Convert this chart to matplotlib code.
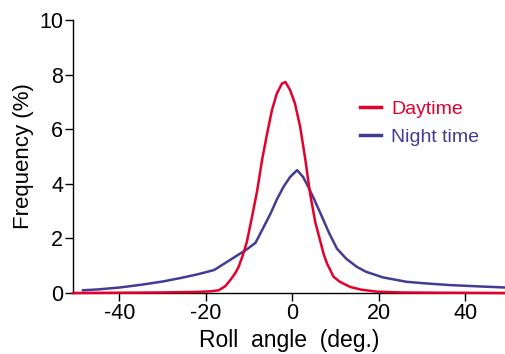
import matplotlib
matplotlib.use("Agg")
import matplotlib.pyplot as plt

plt.rcParams['font.family'] = ['Liberation Sans', 'DejaVu Sans']
plt.rcParams['axes.unicode_minus'] = False

# Daytime roll-angle frequency (%)
day_x = [-50.7, -40, -30, -22, -19, -17, -15.5, -14.3, -13.3, -12.4, -11.3, -10.5, -9.3, -8.1, -7.0,
         -5.8, -4.7, -3.6, -2.4, -1.6, -0.5, 0.6, 1.8, 3.0, 4.1, 5.3, 6.4, 7.2, 8.0, 9.5, 11.0,
         13.4, 16.0, 19.5, 25.0, 35.0, 49.4]
day_y = [0.0, 0.01, 0.02, 0.04, 0.06, 0.1, 0.25, 0.48, 0.7, 0.96, 1.45, 1.88, 2.8, 3.77, 4.87,
         5.86, 6.7, 7.3, 7.67, 7.73, 7.43, 6.95, 6.1, 4.9, 3.65, 2.6, 1.94, 1.45, 1.09, 0.6, 0.41,
         0.22, 0.12, 0.05, 0.02, 0.01, 0.0]

# Night time roll-angle frequency (%)
night_x = [-48.4, -45, -40, -35, -30, -25.8, -22, -18.1, -15, -12.7, -10.5, -8.5, -7, -5,
           -3.5, -2, -0.5, 1.1, 2.5, 3.8, 5, 6.5, 8.5, 10.3, 12.5, 14.9, 17, 21, 26.4, 31,
           36.4, 42, 49.4]
night_y = [0.1, 0.13, 0.2, 0.3, 0.42, 0.55, 0.68, 0.84, 1.15, 1.38, 1.6, 1.84, 2.3, 2.92,
           3.45, 3.9, 4.25, 4.5, 4.25, 3.85, 3.45, 2.92, 2.2, 1.63, 1.25, 0.96, 0.78, 0.57,
           0.41, 0.35, 0.29, 0.25, 0.2]

xticks = [-40, -20, 0, 20, 40]
yticks = [0, 2, 4, 6, 8, 10]

day_color = '#E3002B'
night_color = '#433C93'

fig = plt.figure(figsize=(5.06, 3.54), dpi=100)
ax = fig.add_axes([73/506, 1-293/354, 1-73/506, (293-20)/354])

ax.plot(day_x, day_y, color=day_color, lw=1.8, label='Daytime', clip_on=False, zorder=5)
ax.plot(night_x, night_y, color=night_color, lw=1.8, label='Night time', clip_on=False, zorder=4)

ax.set_xlim(-50.7, 49.4)
ax.set_ylim(0, 10)
ax.set_xticks(xticks)
ax.set_yticks(yticks)
ax.tick_params(axis='both', direction='out', length=6, width=1, labelsize=15.5, pad=1)
ax.spines['top'].set_visible(False)
ax.spines['right'].set_visible(False)
ax.spines['left'].set_linewidth(1)
ax.spines['bottom'].set_linewidth(1)

ax.set_xlabel('Roll  angle  (deg.)', fontsize=16.5, labelpad=4)
ax.set_ylabel('Frequency (%)', fontsize=16, labelpad=4)

leg = ax.legend(loc='upper left', bbox_to_anchor=(360/506, 1-100/354), bbox_transform=fig.transFigure,
                frameon=False, fontsize=14, handlelength=1.1, handletextpad=0.5,
                labelspacing=0.55, labelcolor='linecolor', borderaxespad=0, borderpad=0)
for line in leg.get_lines():
    line.set_linewidth(2.5)

fig.savefig('out.png', dpi=100)
